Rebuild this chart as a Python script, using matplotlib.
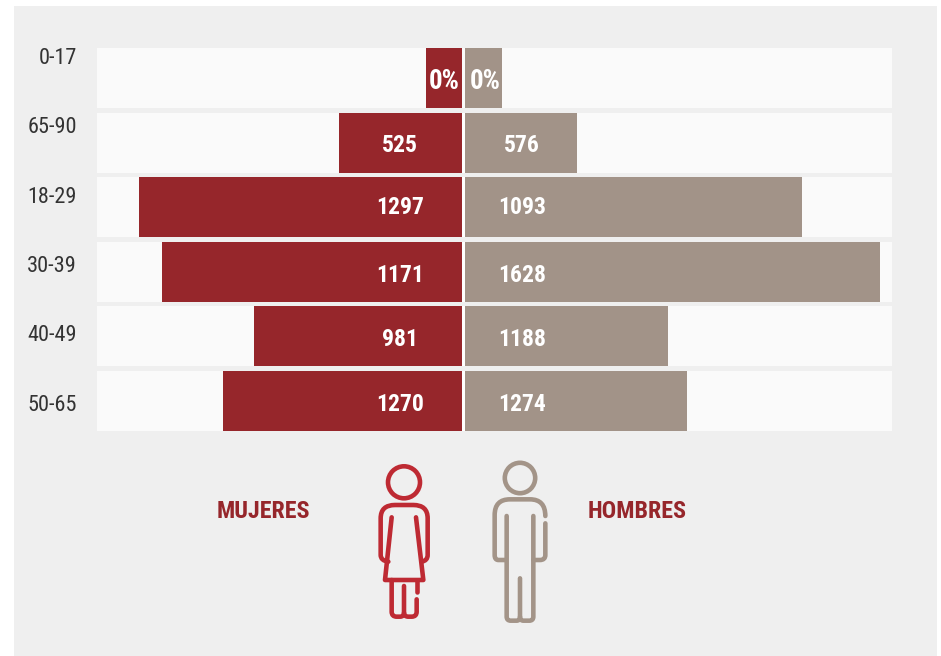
import matplotlib
matplotlib.use('Agg')
import matplotlib.pyplot as plt
from matplotlib.patches import Rectangle, Circle, PathPatch
from matplotlib.path import Path

edades = ['0-17', '65-90', '18-29', '30-39', '40-49', '50-65']
# drawn bar lengths do not follow the printed numbers in the original
largo_mujeres = [36, 123, 323, 300, 208, 239]
largo_hombres = [37, 112, 337, 415, 203, 222]
etiquetas_mujeres = ['0%', '525', '1297', '1171', '981', '1270']
etiquetas_hombres = ['0%', '576', '1093', '1628', '1188', '1274']

ROJO = '#96262B'
GRIS = '#A29388'
ROJO_ICONO = '#BE2A33'
GRIS_ICONO = '#A39488'
FUENTE = ['Roboto Condensed', 'Archivo Narrow', 'Roboto', 'DejaVu Sans']
LW = 3.3

W, H = 941, 656
fig = plt.figure(figsize=(W / 100, H / 100), dpi=100, facecolor='white')

# page layer in pixel coordinates
bg = fig.add_axes([0, 0, 1, 1], zorder=0)
bg.set_xlim(0, W)
bg.set_ylim(H, 0)
bg.axis('off')
bg.add_patch(Rectangle((14, 6), 923, 650, fc='#EFEFEF', ec='none'))

# chart
ax = fig.add_axes([97 / W, 1 - 431 / H, 795 / W, 383 / H], zorder=1)
ax.axis('off')
ax.set_xlim(-366, 429)
ax.set_ylim(5.4644, -0.4644)
filas = list(range(len(edades)))
alto = 60 / 64.6
ax.barh(filas, [795] * 6, left=-366, height=alto, color='#FAFAFA')
ax.barh(filas, [-v for v in largo_mujeres], left=-1, height=alto, color=ROJO)
ax.barh(filas, largo_hombres, left=2, height=alto, color=GRIS)
# white spine between the two sides
ax.barh(filas[1:], [3.5] * 5, left=-1, height=alto, color='white')

# numbers are not quite centred in their rows in the original
ajuste = [0.06, 0.05, 0.0, 0.06, 0.05, 0.06]
for i in filas:
    xm, xh = (-19, 22) if i == 0 else (-63, 59)
    tam = 19.5 if i == 0 else 17
    ax.text(xm, i + ajuste[i], etiquetas_mujeres[i], color='white', fontsize=tam, fontweight='bold',
            family=FUENTE, ha='center', va='center')
    ax.text(xh, i + ajuste[i], etiquetas_hombres[i], color='white', fontsize=tam, fontweight='bold',
            family=FUENTE, ha='center', va='center')

# age labels sit above the row centres in the original
for txt, y in zip(edades, [58.5, 127.5, 197.5, 266.5, 335.5, 405.5]):
    bg.text(77, y, txt, color='#333333', fontsize=16, family=FUENTE, ha='right', va='center')

bg.text(263.5, 511, 'MUJERES', color=ROJO, fontsize=17.3, fontweight='bold', family=FUENTE,
        ha='center', va='center')
bg.text(637, 511, 'HOMBRES', color=ROJO, fontsize=17.3, fontweight='bold', family=FUENTE,
        ha='center', va='center')


def trazo(puntos, color):
    # puntos: M start, then (x, y) lines or (cx, cy, x, y) curves, in zoomed icon coords
    verts = [(340 + puntos[0][0] / 3, 440 + puntos[0][1] / 3)]
    codes = [Path.MOVETO]
    for p in puntos[1:]:
        if len(p) == 4:
            verts += [(340 + p[0] / 3, 440 + p[1] / 3), (340 + p[2] / 3, 440 + p[3] / 3)]
            codes += [Path.CURVE3, Path.CURVE3]
        else:
            verts.append((340 + p[0] / 3, 440 + p[1] / 3))
            codes.append(Path.LINETO)
    bg.add_patch(PathPatch(Path(verts, codes), fc='none', ec=color, lw=LW,
                           capstyle='round', joinstyle='round'))


# woman
bg.add_patch(Circle((404, 482.3), 16, fc='none', ec=ROJO_ICONO, lw=LW))
trazo([(145, 365), (122, 362, 122, 345), (122, 235), (122, 195, 165, 195), (220, 195),
       (263, 195, 263, 235), (263, 345), (263, 362, 245, 365)], ROJO_ICONO)
trazo([(155, 232), (135, 420), (250, 420), (228, 232)], ROJO_ICONO)
trazo([(155, 420), (155, 515), (155, 530, 170, 530), (180, 530), (192, 530, 192, 518), (192, 438)], ROJO_ICONO)
trazo([(192, 518), (192, 530, 205, 530), (215, 530), (230, 530, 230, 515), (230, 478)], ROJO_ICONO)
trazo([(230, 455), (230, 420)], ROJO_ICONO)

# man
bg.add_patch(Circle((520, 478), 15.2, fc='none', ec=GRIS_ICONO, lw=LW))
trazo([(497, 360), (475, 360), (464, 360, 464, 345), (464, 225), (464, 178, 510, 178), (570, 178),
       (616, 178, 616, 228)], GRIS_ICONO)
trazo([(616, 250), (616, 345), (616, 360, 600, 360), (580, 360)], GRIS_ICONO)
trazo([(500, 228), (500, 530), (500, 542, 512, 542), (530, 542), (540, 542, 540, 530), (540, 415)], GRIS_ICONO)
trazo([(540, 530), (540, 542, 550, 542), (568, 542), (580, 542, 580, 530), (580, 228)], GRIS_ICONO)

fig.savefig('out.png', dpi=100)
